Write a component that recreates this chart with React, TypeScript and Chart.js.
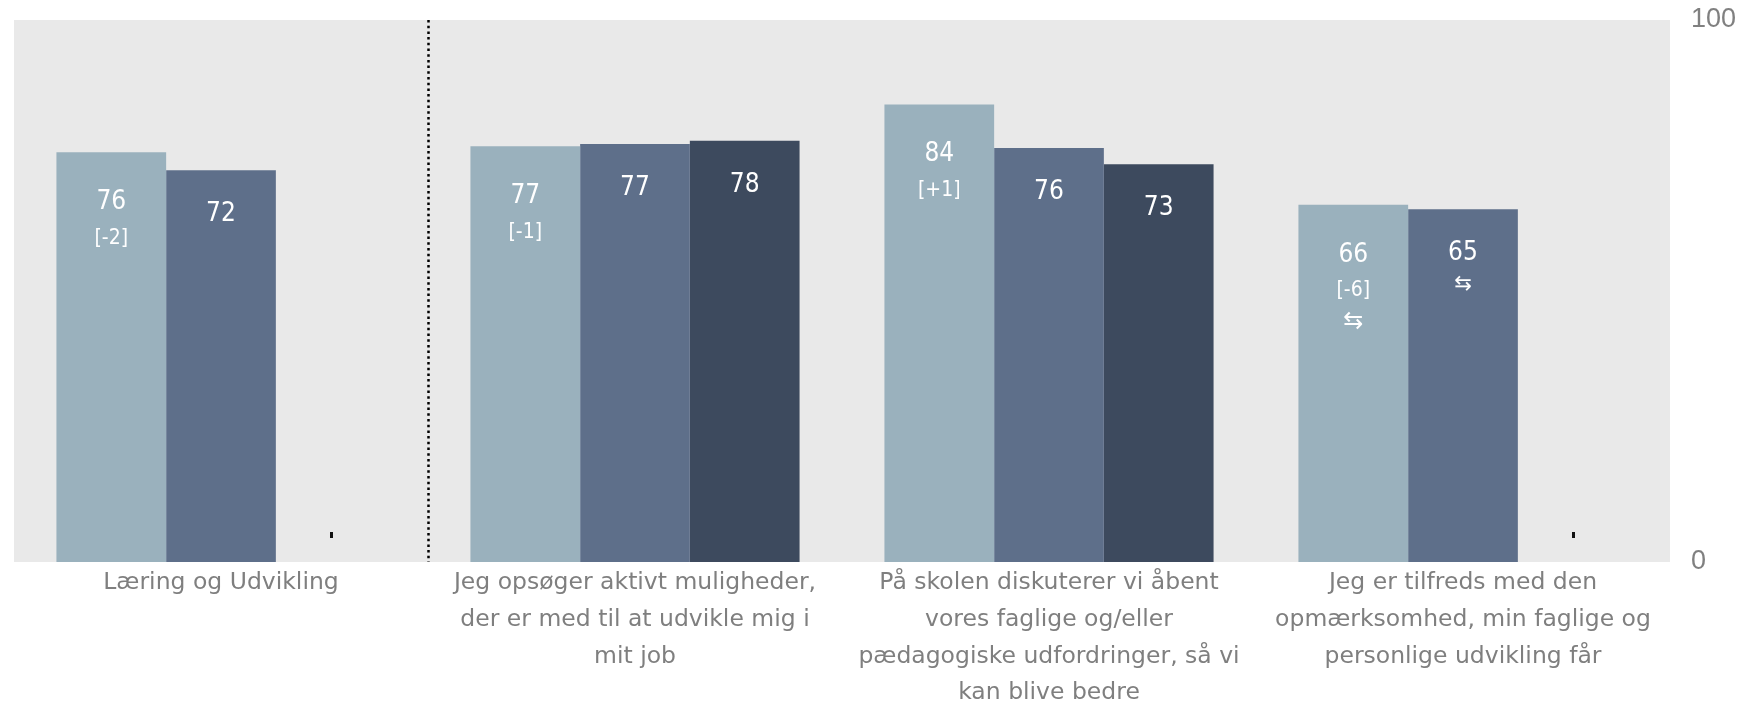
import React, { useEffect, useRef } from "react";
import { Chart, registerables } from "chart.js";

Chart.register(...registerables);

const categories: string[][] = [
  ["Læring og Udvikling"],
  ["Jeg opsøger aktivt muligheder,", "der er med til at udvikle mig i", "mit job"],
  ["På skolen diskuterer vi åbent", "vores faglige og/eller", "pædagogiske udfordringer, så vi", "kan blive bedre"],
  ["Jeg er tilfreds med den", "opmærksomhed, min faglige og", "personlige udvikling får"],
];

const series1: (number | null)[] = [75.6, 76.7, 84.4, 65.9];
const series2: (number | null)[] = [72.3, 77.1, 76.4, 65.1];
const series3: (number | null)[] = [null, 77.7, 73.4, null];

const deltas1: (string | null)[] = ["[-2]", "[-1]", "[+1]", "[-6]"];
const arrows1: boolean[] = [false, false, false, true];
const arrows2: boolean[] = [false, false, false, true];

const yTicks = [0, 100];

const COLORS = ["#9AB1BD", "#5E6F8A", "#3D4A5E"];
const BG = "#E9E9E9";
const LABEL_FONT = "'DejaVu Sans Condensed', 'DejaVu Sans', sans-serif";

const overlay = {
  id: "overlay",
  beforeDraw(chart: any) {
    const { ctx, chartArea } = chart;
    ctx.save();
    ctx.fillStyle = BG;
    ctx.fillRect(chartArea.left, chartArea.top, chartArea.right - chartArea.left, chartArea.bottom - chartArea.top);
    ctx.restore();
  },
  afterDatasetsDraw(chart: any) {
    const { ctx, chartArea } = chart;
    const xScale = chart.scales.x;
    ctx.save();
    // dotted separator between first category and the rest
    const sepX = Math.round((xScale.getPixelForValue(0) + xScale.getPixelForValue(1)) / 2) + 0.5;
    ctx.strokeStyle = "#000";
    ctx.lineWidth = 2.5;
    ctx.setLineDash([2.5, 3.2]);
    ctx.beginPath();
    ctx.moveTo(sepX, chartArea.top);
    ctx.lineTo(sepX, chartArea.bottom);
    ctx.stroke();
    ctx.setLineDash([]);

    ctx.textAlign = "center";
    ctx.textBaseline = "middle";
    ctx.fillStyle = "#FFFFFF";
    const deltasAll = [deltas1, [null, null, null, null], [null, null, null, null]];
    const arrowsAll = [arrows1, arrows2, [false, false, false, false]];
    chart.data.datasets.forEach((ds: any, di: number) => {
      const meta = chart.getDatasetMeta(di);
      meta.data.forEach((bar: any, i: number) => {
        const v = ds.data[i];
        if (v === null || v === undefined) {
          // missing value marker
          ctx.fillStyle = "#111";
          ctx.fillRect(Math.round(bar.x) - 1, chartArea.bottom - 30, 3, 6);
          ctx.fillStyle = "#FFFFFF";
          return;
        }
        const delta = deltasAll[di][i];
        let y = bar.y + (delta ? 50 : 44);
        ctx.font = `26px ${LABEL_FONT}`;
        ctx.fillText(String(Math.round(v)), bar.x, y);
        if (delta) {
          y += 36;
          ctx.font = `21px ${LABEL_FONT}`;
          ctx.fillText(delta, bar.x, y);
        }
        if (arrowsAll[di][i]) {
          y += 31;
          ctx.font = `${delta ? 24 : 21}px 'DejaVu Sans', sans-serif`;
          ctx.fillText("\u21C6", bar.x, y);
        }
      });
    });
    ctx.restore();
  },
};

export default function App() {
  const ref = useRef<HTMLCanvasElement | null>(null);
  useEffect(() => {
    if (!ref.current) return;
    const chart = new Chart(ref.current, {
      type: "bar",
      data: {
        labels: categories,
        datasets: [
          { data: series1, backgroundColor: COLORS[0], categoryPercentage: 0.795, barPercentage: 1.0 },
          { data: series2, backgroundColor: COLORS[1], categoryPercentage: 0.795, barPercentage: 1.0 },
          { data: series3, backgroundColor: COLORS[2], categoryPercentage: 0.795, barPercentage: 1.0 },
        ],
      },
      options: {
        animation: false,
        responsive: true,
        maintainAspectRatio: false,
        layout: { padding: { left: 14, top: 20, right: 0, bottom: 0 } },
        plugins: { legend: { display: false }, tooltip: { enabled: false } },
        scales: {
          x: {
            grid: { display: false },
            border: { display: false },
            ticks: {
              autoSkip: false,
              maxRotation: 0,
              minRotation: 0,
              padding: -5,
              color: "#7F7F7F",
              font: { family: "'DejaVu Sans', sans-serif", size: 23.5, lineHeight: 1.56 },
            },
            afterFit(scale: any) {
              scale.height = 142;
            },
          },
          y: {
            position: "right",
            min: 0,
            max: 100,
            grid: { display: false, drawTicks: false },
            border: { display: false },
            afterBuildTicks(scale: any) {
              scale.ticks = yTicks.map((v) => ({ value: v }));
            },
            ticks: {
              padding: 21,
              color: "#808080",
              font: { family: "'Liberation Sans', Arial, sans-serif", size: 27 },
            },
            afterFit(scale: any) {
              scale.width = 74;
              scale.paddingTop = 0;
              scale.paddingBottom = 0;
            },
          },
        },
      },
      plugins: [overlay],
    });
    return () => chart.destroy();
  }, []);
  return (
    <div style={{ position: "fixed", left: 0, top: 0, width: 1744, height: 704, background: "#fff" }}>
      <canvas ref={ref} />
    </div>
  );
}
